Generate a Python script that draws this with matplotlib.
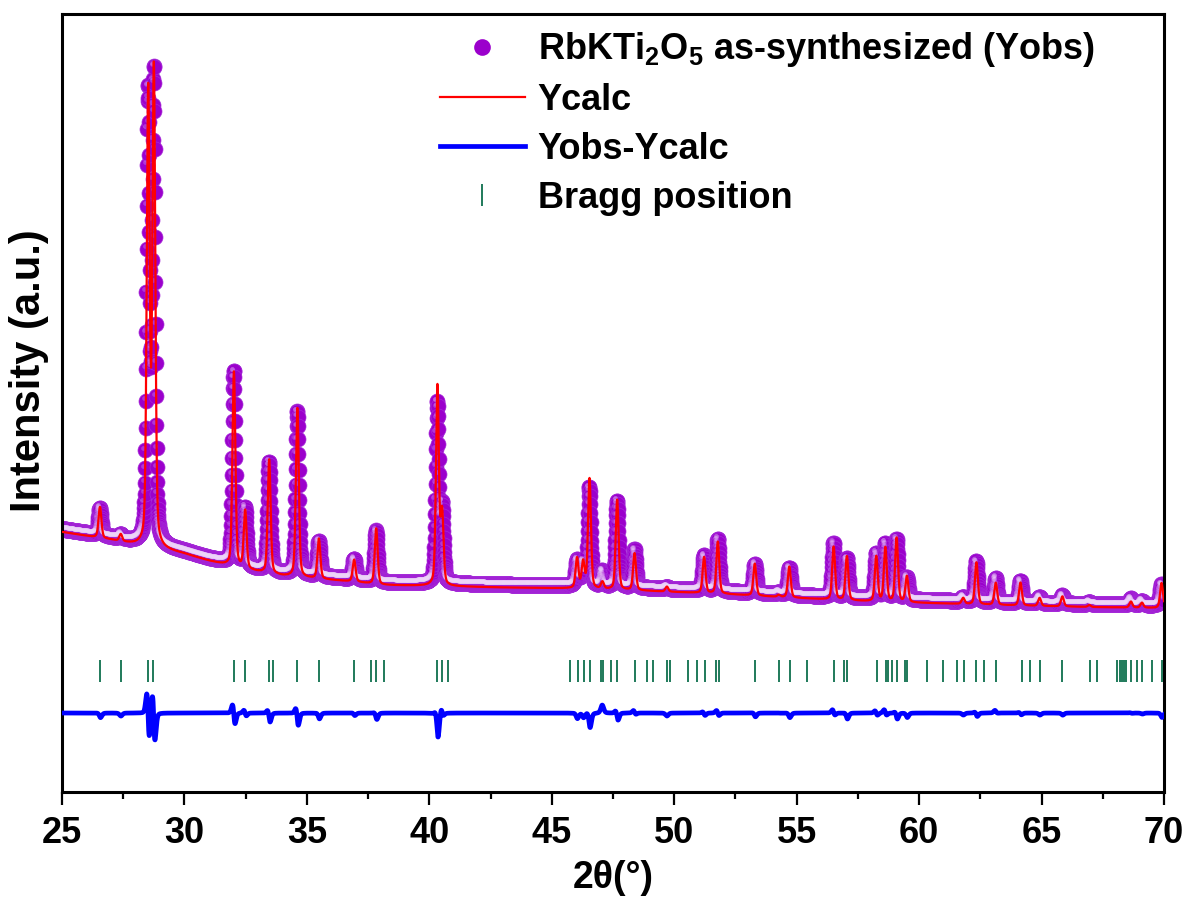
import numpy as np
import matplotlib
matplotlib.use("Agg")
import matplotlib.pyplot as plt
import matplotlib.transforms as mtransforms
from matplotlib.lines import Line2D
from matplotlib.ticker import MultipleLocator

plt.rcParams['font.family'] = ['Liberation Sans', 'DejaVu Sans']
plt.rcParams['font.weight'] = 'bold'
plt.rcParams['mathtext.fontset'] = 'custom'
plt.rcParams['mathtext.rm'] = 'Liberation Sans:bold'
plt.rcParams['mathtext.default'] = 'rm'

# background level (a.u.) read at a few angles
bg_angle = [25, 26, 27, 28, 29, 30, 31, 32, 33, 34, 35, 36, 37, 38, 40,
            43, 46, 49, 52, 55, 58, 61, 64, 67, 70]
bg_level = [260, 256, 252, 247, 243, 238, 231, 225, 220, 216, 214, 212, 210,
            207, 206, 204.5, 203.5, 201, 198, 194, 190.5, 188.5, 186.5, 185, 184]
obs_bg_offset = 3

# reflections: position (deg), observed and calculated height above background
peak_pos = [26.55, 27.40, 28.52, 28.75, 32.02, 32.48, 33.46, 34.61, 35.49,
            36.93, 37.83, 40.33, 40.52, 46.03, 46.28, 46.54, 47.07, 47.67,
            48.38, 49.70, 51.22, 51.78, 53.29, 54.27, 54.70, 56.51, 57.05,
            58.25, 58.62, 59.08, 59.50, 61.80, 62.34, 63.13, 64.14, 64.92,
            65.85, 66.95, 68.65, 69.10, 69.90]
peak_obs = [27, 4, 446, 467, 193, 58, 109, 163, 35, 20, 51, 179, 74, 25, 22,
            98, 15, 86, 38, 2, 35, 52, 29, 2, 27, 54, 39, 45, 55, 60, 22, 4,
            40, 24, 22, 6, 8, 2, 6, 4, 21]
peak_calc = [31, 7, 450, 473, 195, 58, 114, 169, 40, 22, 56, 199, 71, 30, 26,
             110, 7, 90, 37, 5, 36, 52, 32, 2, 31, 53, 44, 45, 54, 64, 26, 6,
             42, 22, 23, 8, 10, 2, 6, 5, 25]
peak_fwhm = 0.14
peak_eta = 0.35
zero_shift = 0.005

# Bragg reflection markers
bragg_pos = [26.55, 27.40, 28.52, 28.73, 32.02, 32.48, 33.46, 33.62, 34.61,
             35.49, 36.93, 37.62, 37.83, 38.14, 40.33, 40.53, 40.75, 45.74,
             46.07, 46.30, 46.56, 47.00, 47.11, 47.41, 47.67, 48.38, 48.87,
             49.12, 49.71, 49.83, 50.57, 50.95, 51.24, 51.72, 51.83, 53.30,
             54.29, 54.73, 55.42, 56.51, 56.95, 57.04, 58.28, 58.63, 58.72,
             58.90, 59.08, 59.43, 59.52, 60.32, 60.97, 61.55, 61.82, 62.33,
             62.63, 63.13, 64.22, 64.53, 64.95, 65.85, 66.99, 67.26, 68.08,
             68.20, 68.30, 68.38, 68.45, 68.65, 68.89, 69.10, 69.51, 69.92]

diff_offset = 76
bragg_level = 121


def profile(x, heights, shift, offset=0.0):
    y = np.interp(x, bg_angle, bg_level) + offset
    for p, h in zip(peak_pos, heights):
        u = (x - p + shift) / peak_fwhm
        gauss = np.exp(-4 * np.log(2) * u ** 2)
        lor = 1.0 / (1 + 4 * u ** 2)
        y = y + h * ((1 - peak_eta) * gauss + peak_eta * lor)
    return y


tt = np.arange(25, 70.0001, 0.01)
tt_fine = np.arange(25, 70.0001, 0.004)
y_obs = profile(tt, peak_obs, zero_shift, obs_bg_offset)
y_calc = profile(tt_fine, peak_calc, 0.0)
y_diff = y_obs - profile(tt, peak_calc, 0.0) + diff_offset

fig = plt.figure(figsize=(11.89, 9.10), dpi=100)
ax = fig.add_axes([62 / 1189, 1 - 792 / 910, 1102 / 1189, 778 / 910])

purple = '#9b00cc'
ax.plot(tt, y_obs, 'o', color=purple, ms=10.8, mec='#a52ad8', mew=0.5,
        zorder=2)
hl = mtransforms.offset_copy(ax.transData, fig=fig, x=-2.0, y=2.5,
                             units='dots')
ax.plot(tt, y_obs, 'o', color='#f0d8fb', ms=3.4, mec='none', alpha=0.25,
        transform=hl, zorder=2.1)
ax.plot(tt_fine, y_calc, '-', color='red', lw=1.6, zorder=3)
ax.plot(tt, y_diff, '-', color='blue', lw=3.4, zorder=3)
ax.plot(bragg_pos, [bragg_level] * len(bragg_pos), '|', color='#1f7a5a',
        ms=16, mew=1.4, zorder=3)

ax.set_xlim(25, 70)
ax.set_ylim(0, 778)
ax.set_yticks([])
ax.xaxis.set_major_locator(MultipleLocator(5))
ax.xaxis.set_minor_locator(MultipleLocator(2.5))
ax.tick_params(axis='x', which='major', direction='out', length=9.5,
               width=1.6, labelsize=26, pad=8)
ax.tick_params(axis='x', which='minor', direction='out', length=5,
               width=1.6)
for sp in ax.spines.values():
    sp.set_linewidth(2.2)

ax.set_xlabel('2θ(°)', fontsize=27, fontweight='bold', labelpad=6)
ax.set_ylabel('Intensity (a.u.)', fontsize=30, fontweight='bold')
ax.yaxis.set_label_coords(-0.012, 0.541)

h_obs = Line2D([], [], ls='none', marker='o', color=purple, ms=12, mec='none')
h_calc = Line2D([], [], color='red', lw=1.6)
h_diff = Line2D([], [], color='blue', lw=3.4)
h_bragg = Line2D([], [], ls='none', marker='|', color='#1f7a5a', ms=16,
                 mew=1.4)
ax.legend([h_obs, h_calc, h_diff, h_bragg],
          ['RbKTi$_2$O$_5$ as-synthesized (Yobs)', 'Ycalc', 'Yobs-Ycalc',
           'Bragg position'],
          loc='upper left', bbox_to_anchor=((440 - 62) / 1102, 0.979),
          frameon=False, fontsize=26, handlelength=2.35, handletextpad=0.35,
          borderpad=0, borderaxespad=0, labelspacing=0.38)

fig.savefig('out.png', dpi=100)
